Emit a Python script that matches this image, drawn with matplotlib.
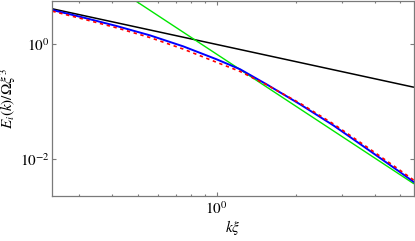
import matplotlib
matplotlib.use("Agg")
import matplotlib.pyplot as plt
from matplotlib.ticker import LogLocator, NullFormatter, NullLocator, FixedLocator

plt.rcParams['font.family'] = ['STIXGeneral', 'DejaVu Serif']
plt.rcParams['mathtext.fontset'] = 'stix'

# blue solid curve
k_blue = [0.237, 0.311, 0.417, 0.558, 0.747, 1.0, 1.23, 1.55, 2.08, 2.79, 3.73, 5.0, 5.65]
E_blue = [3.864, 2.856, 2.031, 1.400, 0.901, 0.5375, 0.3601, 0.1975, 0.08867, 0.03794, 0.01505, 0.00587, 0.003934]
# red dashed curve
k_red = [0.237, 0.311, 0.417, 0.558, 0.747, 1.0, 1.23, 1.55, 2.08, 2.79, 3.73, 5.0, 5.65]
E_red = [3.683, 2.689, 1.890, 1.282, 0.8089, 0.4768, 0.3299, 0.1936, 0.09232, 0.04029, 0.01617, 0.00631, 0.004227]
# black k^-1 reference line (end points)
k_black = [0.2367, 5.654]
E_black = [4.06, 0.1753]
# green k^-3 reference line (end points)
k_green = [0.40, 5.654]
E_green = [10.34, 0.003663]

xlim = (0.2367, 5.654)
ylim = (0.00225, 5.66)

fig = plt.figure(figsize=(4.15, 2.41), dpi=100)
ax = fig.add_axes([52.3/415, 1 - 196/241, (414 - 52.3)/415, (196 - 0.5)/241])

ax.plot(k_black, E_black, color='black', lw=1.1, solid_capstyle='butt')
ax.plot(k_green, E_green, color='#00e600', lw=1.0, solid_capstyle='butt')
ax.plot(k_blue, E_blue, color='#0000ff', lw=1.4)
ax.plot(k_red, E_red, color='#ff0000', lw=1.2, ls=(0, (2.0, 2.2)))

ax.set_xscale('log')
ax.set_yscale('log')
ax.set_xlim(*xlim)
ax.set_ylim(*ylim)

ax.xaxis.set_major_locator(FixedLocator([1.0]))
ax.xaxis.set_minor_locator(LogLocator(base=10, subs=[2, 3, 4, 5, 6, 7, 8, 9], numticks=20))
ax.xaxis.set_minor_formatter(NullFormatter())
ax.yaxis.set_major_locator(FixedLocator([1e-2, 1e0]))
ax.yaxis.set_minor_locator(NullLocator())

gray = '#7a7a7a'
for s in ax.spines.values():
    s.set_color(gray)
    s.set_linewidth(0.9)
ax.tick_params(which='both', direction='in', top=True, right=True, color=gray,
               labelsize=11, width=0.8)
ax.tick_params(which='major', length=3.0, pad=3)
ax.tick_params(which='minor', length=1.6)
ax.tick_params(axis='y', pad=2)

ax.set_xlabel(r'$k\xi$', fontsize=11, labelpad=1)
ax.set_ylabel(r'$E_i(k)/\Omega\xi^3$', fontsize=11, labelpad=1)

fig.savefig('out.png', dpi=100)
